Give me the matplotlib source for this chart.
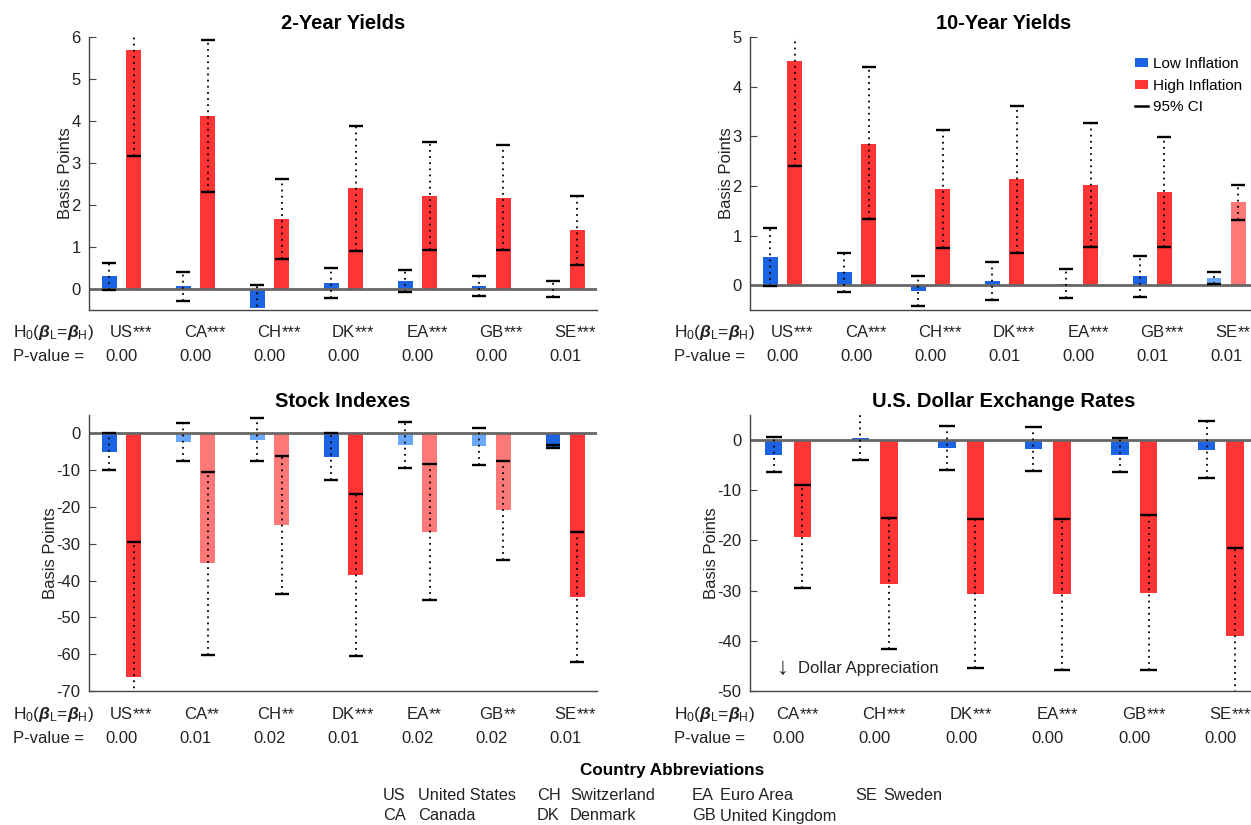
import matplotlib
matplotlib.use("Agg")
import matplotlib.pyplot as plt
from matplotlib.patches import Patch
from matplotlib.lines import Line2D
from matplotlib.transforms import blended_transform_factory

plt.rcParams['font.family'] = ['Liberation Sans', 'DejaVu Sans']
plt.rcParams['mathtext.fontset'] = 'custom'
plt.rcParams['mathtext.rm'] = 'Liberation Sans'
plt.rcParams['mathtext.it'] = 'Liberation Sans:italic'
plt.rcParams['mathtext.bf'] = 'Liberation Sans:bold:italic'

# ---------------- data ----------------
countries7 = ['US', 'CA', 'CH', 'DK', 'EA', 'GB', 'SE']
countries6 = ['CA', 'CH', 'DK', 'EA', 'GB', 'SE']

# 2-Year Yields
y2_low = [0.31, 0.07, -0.45, 0.14, 0.19, 0.07, 0.01]
y2_low_lo = [-0.03, -0.28, -0.99, -0.22, -0.06, -0.17, -0.18]
y2_low_hi = [0.62, 0.41, 0.09, 0.51, 0.45, 0.30, 0.20]
y2_high = [5.70, 4.12, 1.67, 2.40, 2.22, 2.17, 1.41]
y2_high_lo = [3.17, 2.32, 0.72, 0.91, 0.93, 0.93, 0.57]
y2_high_hi = [8.23, 5.94, 2.63, 3.88, 3.49, 3.42, 2.22]
y2_sig_low = [True] * 7
y2_sig_high = [True] * 7
y2_stars = ['***'] * 7
y2_p = ['0.00', '0.00', '0.00', '0.00', '0.00', '0.00', '0.01']

# 10-Year Yields
y10_low = [0.56, 0.26, -0.11, 0.08, 0.02, 0.18, 0.14]
y10_low_lo = [-0.02, -0.14, -0.42, -0.30, -0.26, -0.23, 0.03]
y10_low_hi = [1.15, 0.65, 0.18, 0.46, 0.32, 0.59, 0.27]
y10_high = [4.51, 2.85, 1.93, 2.13, 2.01, 1.87, 1.67]
y10_high_lo = [2.41, 1.33, 0.75, 0.65, 0.77, 0.77, 1.32]
y10_high_hi = [6.61, 4.39, 3.12, 3.60, 3.26, 2.99, 2.02]
y10_sig_low = [True, True, True, True, True, True, False]
y10_sig_high = [True, True, True, True, True, True, False]
y10_stars = ['***', '***', '***', '***', '***', '***', '**']
y10_p = ['0.00', '0.00', '0.00', '0.01', '0.00', '0.01', '0.01']

# Stock Indexes
st_low = [-5.0, -2.3, -1.7, -6.4, -3.1, -3.4, -3.6]
st_low_lo = [-10.0, -7.5, -7.6, -12.7, -9.5, -8.5, -4.0]
st_low_hi = [0.0, 2.9, 4.3, 0.0, 3.2, 1.6, -3.1]
st_high = [-66.1, -35.3, -24.9, -38.5, -26.8, -20.8, -44.5]
st_high_lo = [-102.6, -60.2, -43.7, -60.6, -45.4, -34.3, -62.0]
st_high_hi = [-29.6, -10.4, -6.2, -16.5, -8.4, -7.4, -26.8]
st_sig_low = [True, False, False, True, False, False, True]
st_sig_high = [True, False, False, True, False, False, True]
st_stars = ['***', '**', '**', '***', '**', '**', '***']
st_p = ['0.00', '0.01', '0.02', '0.01', '0.02', '0.02', '0.01']

# U.S. Dollar Exchange Rates
fx_low = [-3.0, 0.5, -1.5, -1.7, -3.0, -1.9]
fx_low_lo = [-6.4, -3.9, -6.0, -6.2, -6.3, -7.5]
fx_low_hi = [0.7, 5.4, 2.9, 2.7, 0.4, 3.8]
fx_high = [-19.3, -28.7, -30.7, -30.7, -30.5, -39.0]
fx_high_lo = [-29.5, -41.7, -45.5, -45.9, -45.9, -56.4]
fx_high_hi = [-9.0, -15.5, -15.7, -15.7, -15.0, -21.6]
fx_sig_low = [True] * 6
fx_sig_high = [True] * 6
fx_stars = ['***'] * 6
fx_p = ['0.00'] * 6

abbrev_codes = ['US', 'CA', 'CH', 'DK', 'EA', 'GB', 'SE']
abbrev_names = ['United States', 'Canada', 'Switzerland', 'Denmark',
                'Euro Area', 'United Kingdom', 'Sweden']

# ---------------- style ----------------
BLUE = '#1c64e3'
BLUE_L = '#6aa8f7'
RED = '#ff3434'
RED_L = '#ff7878'
TXT = '#222222'
FS = 12

W, H = 1251, 825
fig = plt.figure(figsize=(W / 100, H / 100), dpi=100)


def px(x0, y0, x1, y1):
    return [x0 / W, 1 - y1 / H, (x1 - x0) / W, (y1 - y0) / H]


def panel(rect, title, codes, low, low_lo, low_hi, high, high_lo, high_hi,
          sig_low, sig_high, stars, pvals, ylim, yticks):
    ax = fig.add_axes(rect)
    n = len(codes)
    off = 0.165
    bw = 0.2
    cap = 0.095
    xs = list(range(n))
    for i in xs:
        ax.bar(i - off, low[i], width=bw, color=BLUE if sig_low[i] else BLUE_L,
               zorder=2, linewidth=0)
        ax.bar(i + off, high[i], width=bw, color=RED if sig_high[i] else RED_L,
               zorder=2, linewidth=0)
    ax.axhline(0, color='#666666', lw=2.0, zorder=2.5)
    for i in xs:
        for xc, lo, hi in ((i - off, low_lo[i], low_hi[i]),
                           (i + off, high_lo[i], high_hi[i])):
            ax.plot([xc, xc], [lo, hi], color='black', lw=1.3,
                    linestyle=(0, (1, 2.4)), zorder=4)
            for yv in (lo, hi):
                ax.plot([xc - cap, xc + cap], [yv, yv], color='black',
                        lw=1.7, zorder=4, solid_capstyle='butt')
    ax.set_xlim(-0.44, n - 1 + 0.43)
    ax.set_ylim(*ylim)
    ax.set_yticks(yticks)
    ax.set_yticklabels([str(t) for t in yticks])
    ax.set_xticks([])
    for s in ('top', 'right'):
        ax.spines[s].set_visible(False)
    for s in ('left', 'bottom'):
        ax.spines[s].set_color('#444444')
        ax.spines[s].set_linewidth(1.0)
    ax.tick_params(axis='y', direction='in', length=5, color='#444444',
                   labelsize=FS, labelcolor=TXT, pad=6)
    ax.set_ylabel('Basis Points', fontsize=FS, color=TXT, labelpad=-1)
    ax.set_title(title, fontsize=14.5, fontweight='bold', pad=6)
    tr = blended_transform_factory(ax.transData, ax.transAxes)
    for i in xs:
        t = ax.text(i, -0.084, codes[i], transform=tr, ha='center',
                    va='center', fontsize=FS, color=TXT)
        ax.annotate(stars[i], xy=(1, 1), xycoords=t, xytext=(0, 0),
                    textcoords='offset points', ha='left', va='top',
                    fontsize=FS, color=TXT)
        ax.text(i, -0.172, pvals[i], transform=tr, ha='center', va='center',
                fontsize=FS, color=TXT)
    ax.text(-0.15, -0.084,
            r'H$_0$($\mathbf{\beta}_{\mathrm{L}}$=$\mathbf{\beta}_{\mathrm{H}}$)',
            transform=ax.transAxes, ha='left', va='center', fontsize=12.5,
            color=TXT)
    ax.text(-0.15, -0.172, 'P-value =', transform=ax.transAxes, ha='left',
            va='center', fontsize=FS, color=TXT)
    return ax


ax1 = panel(px(89, 37, 597, 310), '2-Year Yields', countries7,
            y2_low, y2_low_lo, y2_low_hi, y2_high, y2_high_lo, y2_high_hi,
            y2_sig_low, y2_sig_high, y2_stars, y2_p, (-0.5, 6),
            [0, 1, 2, 3, 4, 5, 6])
ax2 = panel(px(750, 37, 1258, 310), '10-Year Yields', countries7,
            y10_low, y10_low_lo, y10_low_hi, y10_high, y10_high_lo, y10_high_hi,
            y10_sig_low, y10_sig_high, y10_stars, y10_p, (-0.5, 5),
            [0, 1, 2, 3, 4, 5])
ax3 = panel(px(89, 415, 597, 691), 'Stock Indexes', countries7,
            st_low, st_low_lo, st_low_hi, st_high, st_high_lo, st_high_hi,
            st_sig_low, st_sig_high, st_stars, st_p, (-70, 5),
            [0, -10, -20, -30, -40, -50, -60, -70])
ax4 = panel(px(750, 415, 1258, 691), 'U.S. Dollar Exchange Rates', countries6,
            fx_low, fx_low_lo, fx_low_hi, fx_high, fx_high_lo, fx_high_hi,
            fx_sig_low, fx_sig_high, fx_stars, fx_p, (-50, 5),
            [0, -10, -20, -30, -40, -50])

fig.text(783 / W, 1 - 668 / H, '\u2193', ha='center', va='center',
         fontsize=17, color=TXT, family=['Liberation Sans', 'DejaVu Sans'])
fig.text(798 / W, 1 - 668 / H, 'Dollar Appreciation', ha='left',
         va='center', fontsize=FS, color=TXT)

handles = [Patch(facecolor=BLUE, edgecolor='none'),
           Patch(facecolor=RED, edgecolor='none'),
           Line2D([0], [0], color='black', lw=1.8)]
fig.legend(handles, ['Low Inflation', 'High Inflation', '95% CI'],
           loc='upper left', bbox_to_anchor=(1135 / W, 1 - 57 / H),
           frameon=False, fontsize=11, handlelength=0.85, handleheight=0.5,
           handletextpad=0.3, labelspacing=0.5, borderpad=0, borderaxespad=0)

fig.text(672 / W, 1 - 770 / H, 'Country Abbreviations', ha='center',
         va='center', fontsize=12.3, fontweight='bold')
code_x = [383, 537, 692, 855]
name_x = [418, 570, 720, 883]
row_y = [795, 816]
for k, (c, nme) in enumerate(zip(abbrev_codes, abbrev_names)):
    col = k // 2
    row = k % 2
    fig.text(code_x[col] / W, 1 - row_y[row] / H, c, ha='left', va='center',
             fontsize=11.8, color=TXT)
    fig.text(name_x[col] / W, 1 - row_y[row] / H, nme,
             ha='left', va='center', fontsize=11.8, color=TXT)

fig.savefig('out.png', dpi=100)
